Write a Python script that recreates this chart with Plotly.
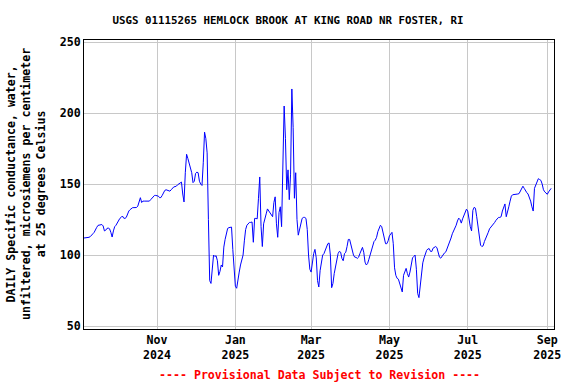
import pandas as pd
import plotly.graph_objects as go

TITLE = "USGS 01115265 HEMLOCK BROOK AT KING ROAD NR FOSTER, RI"
Y_TITLE = ["DAILY Specific conductance, water,",
           "unfiltered, microsiemens per centimeter",
           "at 25 degrees Celsius"]
FOOTER = "---- Provisional Data Subject to Revision ----"

start_date = "2024-09-05"
# daily values, Sep 5 2024 .. Sep 4 2025
sc_sep = [112, 112, 112, 112, 112.5, 113, 114.5, 115, 116, 118.5,
          119.5, 120.9, 121, 121.3, 121.5, 120.5, 117, 117.5, 118.8, 119,
          118.5, 116, 112.7, 117, 120, 121]
sc_oct = [123, 124.5, 125.8, 126.5, 127.5, 126, 125.8, 126.5, 129.5, 131,
          132, 133, 133.4, 133.4, 133.4, 133.5, 134.5, 138, 140.4, 137,
          138, 138, 138, 138, 137.5, 138, 139, 140, 141.5, 142, 142]
sc_nov = [142, 141.5, 140.4, 140.5, 142, 144, 145.5, 146, 145.5, 145.5,
          145, 146, 147, 148, 148.2, 148.5, 149.5, 150, 150.7, 151.4,
          143, 137.4, 158, 171, 168, 165, 161, 158, 151, 152]
sc_dec = [157.5, 158.4, 158, 152, 150, 149, 165, 186.6, 182, 172,
          125, 82, 80, 93, 100, 99, 99.5, 96, 85.7, 88.5,
          93, 91.6, 105.6, 111, 115.5, 118.8, 119.3, 119.5, 119.7, 104, 88]
sc_jan = [78, 76.6, 84, 88, 93, 97, 100, 110, 118, 121,
          122.5, 123, 123, 123.3, 109, 125.8, 125.8, 125.5, 140, 155,
          120, 106, 122, 126.5, 129, 132.5, 131, 130, 129, 127, 137]
sc_feb = [141, 122, 112.5, 130, 134, 120, 171, 205, 182, 146,
          160, 139, 157, 217, 190, 140, 158, 125, 114, 118,
          122, 125.8, 126.5, 126.5, 125.8, 118, 100, 90]
sc_mar = [88, 95, 101, 104, 98, 82, 77.5, 89, 95, 100,
          101, 103, 105, 108, 108.5, 100, 77, 80, 87, 92.5,
          96.3, 101, 102.6, 102, 97.6, 96, 101, 102, 106, 111, 111]
sc_apr = [107, 103, 100, 98.5, 98.4, 97.6, 98.5, 101, 104, 105.4,
          102, 95, 93, 94, 97, 100, 103, 105.4, 109.5, 110.5,
          112.5, 116.5, 119, 121, 120, 116, 110, 108, 108, 110]
sc_may = [113.5, 115, 116, 108, 91, 85.7, 83.6, 83, 80, 76.5,
          74, 85.7, 89, 90.6, 87, 84.5, 88, 93, 98, 99,
          100, 90, 73, 70, 80, 89, 94.5, 98, 101, 103.3, 104.3]
sc_jun = [104.5, 102.6, 102.5, 104.8, 105.5, 106, 105.2, 102, 98.5, 97.8,
          99, 101, 101.6, 102.3, 104.5, 106.5, 108.5, 112, 115, 117,
          118.3, 121, 124, 126, 125, 122.5, 125.5, 127.5, 130.5, 132.3]
sc_jul = [131, 125, 120, 117, 131.5, 133.6, 133, 127, 121, 116,
          107, 106, 106.5, 109.5, 111.5, 113, 116, 118.5, 119.5, 120.5,
          122, 123, 124.5, 125.8, 126.5, 126.5, 127, 131, 133.6, 136, 127]
sc_aug = [130, 134, 138, 141.5, 142.5, 142.5, 142.7, 143, 143, 143.3,
          145, 146.5, 148.5, 147, 145.2, 144, 143, 141, 138, 134,
          131, 147, 149.5, 152, 153.8, 153.2, 152.6, 150, 146, 144.5, 143.3]
sc_sep25 = [142.8, 144.5, 145.5, 147]

values = (sc_sep + sc_oct + sc_nov + sc_dec + sc_jan + sc_feb + sc_mar +
          sc_apr + sc_may + sc_jun + sc_jul + sc_aug + sc_sep25)
dates = pd.date_range(start_date, periods=len(values), freq="D")

tick_dates = ["2024-11-01", "2025-01-01", "2025-03-01",
              "2025-05-01", "2025-07-01", "2025-09-01"]
tick_text = ["Nov<br>2024", "Jan<br>2025", "Mar<br>2025",
             "May<br>2025", "Jul<br>2025", "Sep<br>2025"]
y_ticks = [50, 100, 150, 200, 250]

MONO = "DejaVu Sans Mono"

fig = go.Figure()
fig.add_trace(go.Scatter(x=dates, y=values, mode="lines",
                         line=dict(color="#0000ff", width=1),
                         hoverinfo="skip", showlegend=False))

fig.update_layout(
    width=576, height=384,
    margin=dict(l=84, r=22, t=40, b=55),
    paper_bgcolor="white", plot_bgcolor="white",
    title=dict(text=TITLE, x=0.5, xref="container", xanchor="center",
               y=0.948, yref="container", yanchor="middle",
               font=dict(family=MONO, size=10.8, color="black", weight="bold")),
    xaxis=dict(type="date",
               range=["2024-09-05 02:00", "2025-09-06 05:00"],
               tickvals=tick_dates, ticktext=tick_text,
               showgrid=True, gridcolor="#c8c8c8", gridwidth=1,
               showline=True, linecolor="black", linewidth=1, mirror=True,
               ticks="", zeroline=False,
               tickfont=dict(family=MONO, size=11.6, color="black", weight="bold")),
    yaxis=dict(range=[47.9, 251.5], tickvals=y_ticks,
               showgrid=True, gridcolor="#c8c8c8", gridwidth=1,
               showline=True, linecolor="black", linewidth=1, mirror=True,
               ticks="", zeroline=False,
               tickfont=dict(family=MONO, size=11.6, color="black", weight="bold")),
)

fig.add_annotation(text="<br>".join(Y_TITLE), textangle=-90,
                   xref="paper", yref="paper", x=(25.5 - 84) / 470, y=0.5,
                   xanchor="center", yanchor="middle", showarrow=False,
                   font=dict(family=MONO, size=11.6, color="black", weight="bold"))
fig.add_annotation(text=FOOTER, xref="paper", yref="paper",
                   x=0.5, y=(329 - 375) / 289, xanchor="center", yanchor="middle",
                   showarrow=False,
                   font=dict(family=MONO, size=11.6, color="#ff0000", weight="bold"))

fig.write_html("out.html",
               config={"displayModeBar": False, "staticPlot": True},
               post_script="document.body.style.margin='0';document.body.style.overflow='hidden';")
